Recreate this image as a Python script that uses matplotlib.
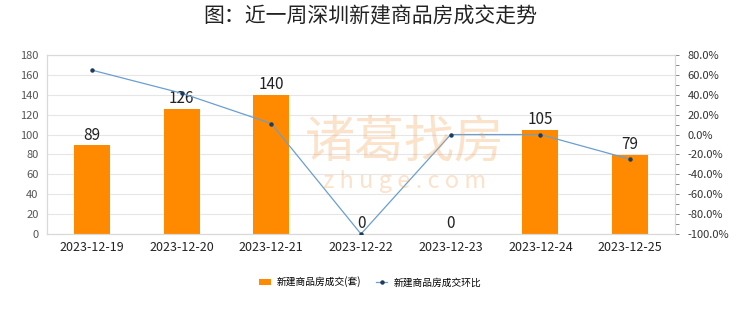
import matplotlib.pyplot as plt
import matplotlib.ticker as mticker
import numpy as np

plt.rcParams['font.family'] = ['Noto Sans CJK SC', 'DejaVu Sans']

dates = ['2023-12-19', '2023-12-20', '2023-12-21', '2023-12-22',
         '2023-12-23', '2023-12-24', '2023-12-25']
deals = [89, 126, 140, 0, 0, 105, 79]
mom = [64.8, 41.6, 11.1, -100.0, 0.0, 0.0, -24.8]

fig = plt.figure(figsize=(7.4, 3.12), dpi=100)
ax = fig.add_axes([47/740, 1 - 234/312, 628/740, 179/312])
ax2 = ax.twinx()

x = np.arange(len(dates))
bars = ax.bar(x, deals, width=0.4, color='#ff8a00', zorder=2,
              label='新建商品房成交(套)')
for xi, v in zip(x, deals):
    ax.text(xi, v + 2, str(v), ha='center', va='bottom', fontsize=11,
            color='#222222', zorder=5)

ax.set_xlim(-0.5, len(dates) - 0.5)
ax.set_ylim(0, 180)
ax.set_yticks(range(0, 181, 20))
ax.set_xticks(x)
ax.set_xticklabels(dates, fontsize=9, color='#222222')
ax.tick_params(axis='y', labelsize=8, colors='#555555', length=0, pad=6)
ax.tick_params(axis='x', length=0, pad=5)
ax.grid(axis='y', color='#e6e6e6', linewidth=0.8, zorder=0)
for s in ax.spines.values():
    s.set_color('#d9d9d9')
    s.set_linewidth(0.8)

line, = ax2.plot(x, mom, color='#6a9fd0', linewidth=0.9, marker='o',
                 markersize=2.2, markerfacecolor='#1f3c5c',
                 markeredgecolor='#1f3c5c', zorder=4,
                 label='新建商品房成交环比')
ax2.set_ylim(-100, 80)
ax2.set_yticks(range(-100, 81, 20))
ax2.yaxis.set_major_formatter(mticker.FuncFormatter(lambda v, p: f'{v:.1f}%'))
ax2.yaxis.set_minor_locator(mticker.MultipleLocator(10))
ax2.tick_params(axis='y', which='both', labelsize=8, colors='#555555',
                length=3, direction='out', pad=6)
ax2.tick_params(axis='y', which='both', color='#777777', width=0.6)
for s in ax2.spines.values():
    s.set_color('#d9d9d9')
    s.set_linewidth(0.8)
for lbl in ax2.get_yticklabels():
    lbl.set_color('#333333')

# watermark
fig.text(405/740, 1 - 143/312, '诸葛找房', fontsize=36, color='#f5a050',
         alpha=0.3, ha='center', va='center', zorder=0)
fig.text(405/740, 1 - 181/312, 'z h u g e . c o m', fontsize=17,
         color='#f5a050', alpha=0.3, ha='center', va='center', zorder=0)

fig.text(0.5, 1 - 16/312, '图：近一周深圳新建商品房成交走势', fontsize=15,
         ha='center', va='center', color='#222222', fontweight='medium')

fig.legend([bars, line], ['新建商品房成交(套)', '新建商品房成交环比'],
           loc='center', bbox_to_anchor=(370/740, 1 - 282/312), ncol=2,
           frameon=False, fontsize=7, handlelength=1.2, handleheight=0.7,
           columnspacing=1.5, handletextpad=0.6)

fig.savefig('out.png', dpi=100, facecolor='white')
